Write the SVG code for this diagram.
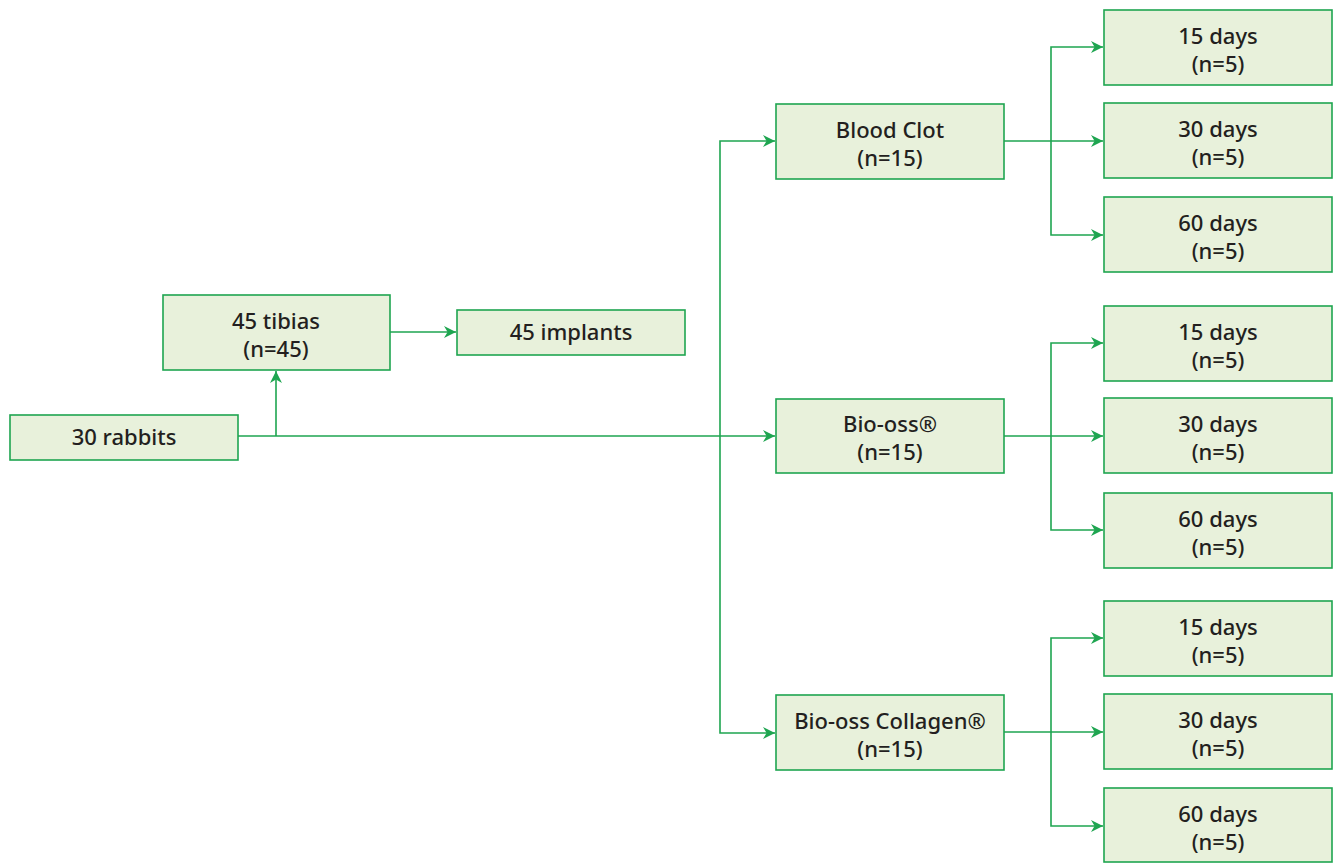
<svg xmlns="http://www.w3.org/2000/svg" width="1337" height="863" viewBox="0 0 1337 863">
<style>
.box{fill:#e8f1db;stroke:#1ea550;stroke-width:1.6}
.t{font-family:"Noto Sans","Open Sans",sans-serif;font-size:22px;font-weight:500;fill:#231f20;text-anchor:middle}
.c{fill:none;stroke:#1ea550;stroke-width:1.6}
</style>
<defs>
<marker id="a" viewBox="0 0 10 10" refX="10" refY="5" markerWidth="12" markerHeight="12" markerUnits="userSpaceOnUse" orient="auto">
<path d="M0,0 L10,5 L0,10 L3,5 z" fill="#1ea550"/>
</marker>
</defs>
<rect width="1337" height="863" fill="#fff"/>
<g id="connectors">
<path class="c" d="M238,436 H775" marker-end="url(#a)"/>
<path class="c" d="M276,436 V371" marker-end="url(#a)"/>
<path class="c" d="M390,332 H456" marker-end="url(#a)"/>
<path class="c" d="M720,436 V141 H775" marker-end="url(#a)"/>
<path class="c" d="M720,436 V733 H775" marker-end="url(#a)"/>
<path class="c" d="M1004,141 H1103" marker-end="url(#a)"/>
<path class="c" d="M1051,141 V47 H1103" marker-end="url(#a)"/>
<path class="c" d="M1051,141 V235 H1103" marker-end="url(#a)"/>
<path class="c" d="M1004,436 H1103" marker-end="url(#a)"/>
<path class="c" d="M1051,436 V343 H1103" marker-end="url(#a)"/>
<path class="c" d="M1051,436 V530 H1103" marker-end="url(#a)"/>
<path class="c" d="M1004,732 H1103" marker-end="url(#a)"/>
<path class="c" d="M1051,732 V638 H1103" marker-end="url(#a)"/>
<path class="c" d="M1051,732 V826 H1103" marker-end="url(#a)"/>
</g>
<g id="rabbits"><rect class="box" x="10" y="415" width="228" height="45"/><text class="t" x="124" y="445">30 rabbits</text></g>
<g id="tibias"><rect class="box" x="163" y="295" width="227" height="75"/><text class="t" x="276" y="329">45 tibias</text><text class="t" x="276" y="357">(n=45)</text></g>
<g id="implants"><rect class="box" x="457" y="310" width="228" height="45"/><text class="t" x="571" y="340">45 implants</text></g>
<g id="bloodclot"><rect class="box" x="776" y="104" width="228" height="75"/><text class="t" x="890" y="138">Blood Clot</text><text class="t" x="890" y="166">(n=15)</text></g>
<g id="biooss"><rect class="box" x="776" y="399" width="228" height="74"/><text class="t" x="890" y="432">Bio-oss®</text><text class="t" x="890" y="460">(n=15)</text></g>
<g id="collagen"><rect class="box" x="776" y="695" width="228" height="75"/><text class="t" x="890" y="729">Bio-oss Collagen®</text><text class="t" x="890" y="757">(n=15)</text></g>
<g id="bc15"><rect class="box" x="1104" y="10" width="228" height="75"/><text class="t" x="1218" y="44">15 days</text><text class="t" x="1218" y="72">(n=5)</text></g>
<g id="bc30"><rect class="box" x="1104" y="103" width="228" height="75"/><text class="t" x="1218" y="137">30 days</text><text class="t" x="1218" y="165">(n=5)</text></g>
<g id="bc60"><rect class="box" x="1104" y="197" width="228" height="75"/><text class="t" x="1218" y="231">60 days</text><text class="t" x="1218" y="259">(n=5)</text></g>
<g id="bo15"><rect class="box" x="1104" y="306" width="228" height="75"/><text class="t" x="1218" y="340">15 days</text><text class="t" x="1218" y="368">(n=5)</text></g>
<g id="bo30"><rect class="box" x="1104" y="398" width="228" height="75"/><text class="t" x="1218" y="432">30 days</text><text class="t" x="1218" y="460">(n=5)</text></g>
<g id="bo60"><rect class="box" x="1104" y="493" width="228" height="75"/><text class="t" x="1218" y="527">60 days</text><text class="t" x="1218" y="555">(n=5)</text></g>
<g id="co15"><rect class="box" x="1104" y="601" width="228" height="75"/><text class="t" x="1218" y="635">15 days</text><text class="t" x="1218" y="663">(n=5)</text></g>
<g id="co30"><rect class="box" x="1104" y="694" width="228" height="75"/><text class="t" x="1218" y="728">30 days</text><text class="t" x="1218" y="756">(n=5)</text></g>
<g id="co60"><rect class="box" x="1104" y="788" width="228" height="74"/><text class="t" x="1218" y="822">60 days</text><text class="t" x="1218" y="850">(n=5)</text></g>
</svg>
